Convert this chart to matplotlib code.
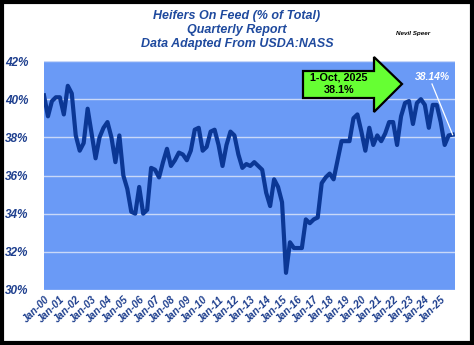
import matplotlib
matplotlib.use("Agg")
import matplotlib.pyplot as plt
from matplotlib.patches import Polygon, Rectangle

# ---- data ----
years = [f"{y:02d}" for y in range(0, 26)]
tick_labels = [f"Jan-{y}" for y in years]
heifer_pct = [
    40.2, 39.1, 39.9, 40.1, 40.1, 39.2, 40.7, 40.3,
    38.1, 37.3, 37.7, 39.5, 38.2, 36.9, 38.0, 38.5,
    38.8, 38.0, 36.7, 38.1, 36.0, 35.3, 34.1, 34.0,
    35.4, 34.0, 34.2, 36.4, 36.3, 35.9, 36.7, 37.4,
    36.5, 36.8, 37.2, 37.1, 36.8, 37.3, 38.4, 38.5,
    37.3, 37.5, 38.3, 38.4, 37.6, 36.5, 37.6, 38.3,
    38.1, 37.1, 36.4, 36.6, 36.5, 36.7, 36.5, 36.3,
    35.1, 34.4, 35.8, 35.4, 34.6, 30.9, 32.5, 32.2,
    32.2, 32.2, 33.7, 33.5, 33.7, 33.8, 35.6, 35.9,
    36.1, 35.8, 36.8, 37.8, 37.8, 37.8, 39.0, 39.2,
    38.3, 37.3, 38.5, 37.6, 38.1, 37.8, 38.2, 38.8,
    38.8, 37.6, 39.1, 39.8, 39.9, 38.7, 39.8, 40.0,
    39.7, 38.5, 39.7, 39.7, 38.8, 37.6, 38.1, 38.14,
]
y_ticks = [30, 32, 34, 36, 38, 40, 42]
title_lines = ["Heifers On Feed (% of Total)", "Quarterly Report", "Data Adapted From USDA:NASS"]
callout_text = "1-Oct, 2025\n38.1%"
last_label = "38.14%"

plt.rcParams['font.family'] = ['Liberation Sans', 'DejaVu Sans']

fig = plt.figure(figsize=(4.74, 3.45), dpi=100)
fig.patch.set_facecolor('white')
ax = fig.add_axes([44/474, 1-290/345, 411/474, 229/345])
ax.set_facecolor('#6A9AF6')

x = list(range(len(heifer_pct)))
ax.plot(x, heifer_pct, color='#0B3795', lw=3.0, solid_joinstyle='round', zorder=3)

ax.set_ylim(30, 42)
ax.set_xlim(0, 103.6)
ax.set_yticks(y_ticks)
ax.set_yticklabels([f"{v}%" for v in y_ticks])
ax.set_xticks(list(range(0, 4*len(tick_labels), 4)))
ax.set_xticklabels(tick_labels, rotation=45, ha='right', rotation_mode='anchor')
ax.tick_params(length=0)
tick_color = '#1E3F8E'
for lab in ax.get_yticklabels():
    lab.set_fontsize(8.5)
    lab.set_fontweight('bold')
    lab.set_fontstyle('italic')
    lab.set_color(tick_color)
for lab in ax.get_xticklabels():
    lab.set_fontsize(7.5)
    lab.set_fontweight('bold')
    lab.set_fontstyle('italic')
    lab.set_color(tick_color)
ax.tick_params(axis='y', pad=11)
ax.tick_params(axis='x', pad=3)
ax.grid(axis='y', color='#C9D8F8', lw=1.0, zorder=1)
for s in ax.spines.values():
    s.set_visible(False)

# titles
for i, t in enumerate(title_lines):
    fig.text(0.5, 1 - (16 + 14*i)/345, t, ha='center', va='center',
             fontsize=9, fontweight='bold', fontstyle='italic', color='#1F4A9E')
fig.text(413/474, 1-34/345, "Nevil Speer", ha='center', va='center',
         fontsize=4.5, fontweight='bold', fontstyle='italic', color='black')

# green arrow callout (positions in axes data coords)
def px2data(px, py):
    xd = (px - 44) / 411 * 103.6
    yd = 42 - (py - 61) / 229 * 12
    return (xd, yd)

pts = [px2data(*p) for p in [(303, 71), (374, 71), (374, 57), (402, 84),
                              (374, 112), (374, 98), (303, 98)]]
arrow = Polygon(pts, closed=True, facecolor='#66FF33', edgecolor='black',
                lw=1.6, zorder=5, clip_on=False)
ax.add_patch(arrow)
cx, cy = px2data(339, 84)
ax.text(cx, cy, callout_text, ha='center', va='center', fontsize=7.8,
        fontweight='bold', color='black', zorder=6, linespacing=1.3)

# last value label
lx, ly = px2data(432, 77)
ax.text(lx, ly, last_label, ha='center', va='center', fontsize=7.5,
        fontweight='bold', fontstyle='italic', color='white', zorder=6)
sx, sy = px2data(432, 84)
ax.plot([sx, x[-1]], [sy, heifer_pct[-1]], color='white', lw=0.9, zorder=6)

# outer frame
fig.patches.append(Rectangle((0.004, 0.005), 0.992, 0.99, transform=fig.transFigure,
                             fill=False, edgecolor='black', lw=3))

fig.savefig('out.png', dpi=100)
